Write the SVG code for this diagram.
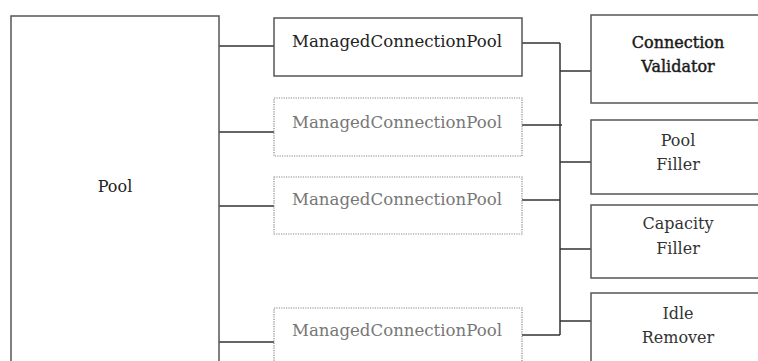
<svg xmlns="http://www.w3.org/2000/svg" width="758" height="361" viewBox="0 0 758 361">
<style>
.box{fill:#fff;stroke:#555;stroke-width:1.5}
.dot{fill:#fff;stroke:#888;stroke-width:1.2;stroke-dasharray:1.2 1.2}
.conn{fill:none;stroke:#333;stroke-width:1.5}
text{font-family:"DejaVu Serif","Liberation Serif",serif;font-size:16px;text-anchor:middle}
.t1{fill:#222}
.t2{fill:#777}
.t3{fill:#333}
.tb{fill:#1a1a1a;stroke:#1a1a1a;stroke-width:0.45}
</style>
<rect width="758" height="361" fill="#fff"/>
<g id="connectors">
<path class="conn" d="M219 46H274M219 132H274M219 206H274M219 342H274"/>
<path class="conn" d="M522 43H560M522 125H562M522 200H560M522 335H560M560 43V335"/>
<path class="conn" d="M560 71H591M560 162H591M560 249H591M560 321H591"/>
</g>
<g id="pool">
<rect class="box" x="11" y="16" width="208" height="360"/>
<text class="t1" x="115" y="192" font-size="17">Pool</text>
</g>
<g id="mcp1">
<rect class="box" x="274" y="18" width="248" height="58"/>
<text class="t1" x="397" y="47" textLength="210" lengthAdjust="spacingAndGlyphs">ManagedConnectionPool</text>
</g>
<g id="mcp2">
<rect class="dot" x="274" y="98" width="248" height="58"/>
<text class="t2" x="397" y="128" textLength="210" lengthAdjust="spacingAndGlyphs">ManagedConnectionPool</text>
</g>
<g id="mcp3">
<rect class="dot" x="274" y="177" width="248" height="57"/>
<text class="t2" x="397" y="205" textLength="210" lengthAdjust="spacingAndGlyphs">ManagedConnectionPool</text>
</g>
<g id="mcp4">
<rect class="dot" x="274" y="308" width="248" height="70"/>
<text class="t2" x="397" y="336" textLength="210" lengthAdjust="spacingAndGlyphs">ManagedConnectionPool</text>
</g>
<g id="validator">
<rect class="box" x="591" y="15" width="180" height="88"/>
<text class="tb" x="678" y="48">Connection</text>
<text class="tb" x="678" y="72">Validator</text>
</g>
<g id="poolfiller">
<rect class="box" x="591" y="120" width="180" height="74"/>
<text class="t3" x="678" y="146">Pool</text>
<text class="t3" x="678" y="170">Filler</text>
</g>
<g id="capacityfiller">
<rect class="box" x="591" y="205" width="180" height="73"/>
<text class="t3" x="678" y="229">Capacity</text>
<text class="t3" x="678" y="254">Filler</text>
</g>
<g id="idleremover">
<rect class="box" x="591" y="293" width="180" height="90"/>
<text class="t3" x="678" y="319">Idle</text>
<text class="t3" x="678" y="343">Remover</text>
</g>
</svg>
